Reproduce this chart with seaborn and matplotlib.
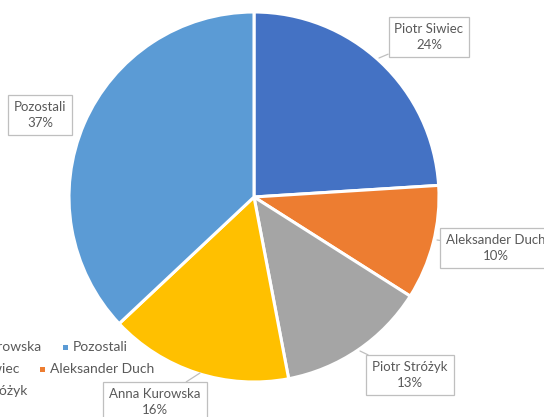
import matplotlib
matplotlib.use("Agg")
import matplotlib.pyplot as plt
import seaborn as sns
from matplotlib.patches import Rectangle

names = ["Piotr Siwiec", "Aleksander Duch", "Piotr Stróżyk", "Anna Kurowska", "Pozostali"]
values = [24, 10, 13, 16, 37]
colors = ["#4472C4", "#ED7D31", "#A5A5A5", "#FFC000", "#5B9BD5"]

sns.set_theme(style="white")
plt.rcParams["font.family"] = ["Lato", "DejaVu Sans"]
TXT = "#595959"

W, H = 544, 417
fig = plt.figure(figsize=(W / 100, H / 100), dpi=100)
ax = fig.add_axes([0, 0, 1, 1])
ax.set_axis_off()

def P(x, y):
    return (x, H - y)

cx, cy = P(254, 197)
ax.pie(values, colors=sns.color_palette(colors), startangle=90, counterclock=False,
       center=(cx, cy), radius=185,
       wedgeprops=dict(edgecolor="white", linewidth=2.2))
ax.set_xlim(0, W)
ax.set_ylim(0, H)
ax.set_aspect("equal")

# label boxes: (text center x, y) px, tail target px
label_pos = {
    "Piotr Siwiec": ((429, 37), (379, 58)),
    "Aleksander Duch": ((496, 248), (437, 240)),
    "Piotr Stróżyk": ((410, 375), (360, 351)),
    "Anna Kurowska": ((155, 402), (200, 373)),
    "Pozostali": ((40, 115), (None, None)),
}
for n, v in zip(names, values):
    (tx, ty), (ex, ey) = label_pos[n]
    if ex is None:
        ax.text(*P(tx, ty), f"{n}\n{v}%", ha="center", va="center",
                fontsize=9.5, color=TXT, linespacing=1.35,
                bbox=dict(boxstyle="square,pad=0.45", fc="white", ec="#BFBFBF", lw=0.9))
        continue
    ax.annotate(f"{n}\n{v}%", xy=P(ex, ey), xytext=P(tx, ty), ha="center", va="center",
                fontsize=9.5, color=TXT, linespacing=1.35,
                bbox=dict(boxstyle="square,pad=0.45", fc="white", ec="#BFBFBF", lw=0.9),
                arrowprops=dict(arrowstyle="-", color="#BFBFBF", lw=0.9, shrinkA=0, shrinkB=0))

# partially visible legend (cropped on the left)
def fx(x):
    return x / W
def fy(y):
    return 1 - y / H

leg_text_right = [("Anna Kurowska", 41, 347), ("Piotr Siwiec", 19, 369), ("Piotr Stróżyk", 27, 391)]
for t, x, y in leg_text_right:
    fig.text(fx(x), fy(y), t, ha="right", va="center", fontsize=10, color=TXT)
leg_items = [("Pozostali", 65, 347), ("Aleksander Duch", 42, 369)]
for t, x, y in leg_items:
    c = colors[names.index(t)]
    fig.patches.append(Rectangle((fx(x - 2.5), fy(y + 2.5)), 5 / W, 5 / H, transform=fig.transFigure,
                                 fc=c, ec="none", figure=fig))
    fig.text(fx(x + 8), fy(y), t, ha="left", va="center", fontsize=10, color=TXT)

fig.savefig("out.png", dpi=100)
